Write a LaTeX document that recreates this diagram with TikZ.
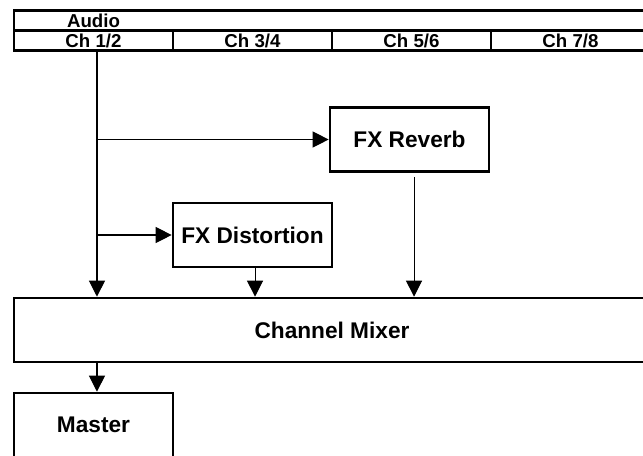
\documentclass[tikz,border=0pt]{standalone}
\usepackage{fontspec}
\setmainfont{Liberation Sans}
\usetikzlibrary{arrows.meta}

\begin{document}
\begin{tikzpicture}[
  x=0.75pt,y=-0.75pt,
  font=\bfseries\fontsize{17}{20}\selectfont,
  block/.style={draw,line width=2pt,minimum width=119.25pt,minimum height=48pt,inner sep=0pt},
  wide/.style={block,minimum width=477pt},
  hdr/.style={font=\bfseries\fontsize{14}{15}\selectfont,text height=10pt,text depth=0pt},
  cell/.style={block,hdr,minimum height=15pt},
  flow/.style={-{Triangle[length=12pt,width=12pt]},line width=0.8pt}
]
\useasboundingbox (0,0) rectangle (643,455);
\clip (0,0) rectangle (643,455);
% header: audio source and its channel pairs
\node[wide,minimum height=15pt] (audio) at (332,20.5) {};
\node[hdr,inner sep=0pt] (audiolab) at (93.5,20.5) {Audio};
\foreach \i in {1,...,4}{
  \pgfmathtruncatemacro\lo{2*\i-1}
  \pgfmathtruncatemacro\hi{2*\i}
  \node[cell] (ch\i) at (-65.5+159*\i,40.5) {Ch \lo/\hi};
}
\node[block] (rev) at (409.5,139.5) {FX Reverb};
\node[block] (dist) at (252.5,235) {FX Distortion};
\node[wide] (mix) at (332,330) {Channel Mixer};
\node[block] (mst) at (93.5,425) {Master};
\coordinate (trunk) at ([xshift=2.6pt]ch1.south);
\draw[flow] (trunk) -- (trunk |- mix.north);
\draw[flow] (trunk |- rev.west) -- (rev.west);
\draw[flow] (trunk |- dist.west) -- (dist.west);
\draw[flow] ([xshift=1.9pt]dist.south) -- ([xshift=1.9pt]dist.south |- mix.north);
\draw[flow] ([xshift=3.4pt,yshift=-3pt]rev.south) -- ([xshift=3.4pt]rev.south |- mix.north);
\draw[flow] (trunk |- mix.south) -- (trunk |- mst.north);
\end{tikzpicture}
\end{document}
